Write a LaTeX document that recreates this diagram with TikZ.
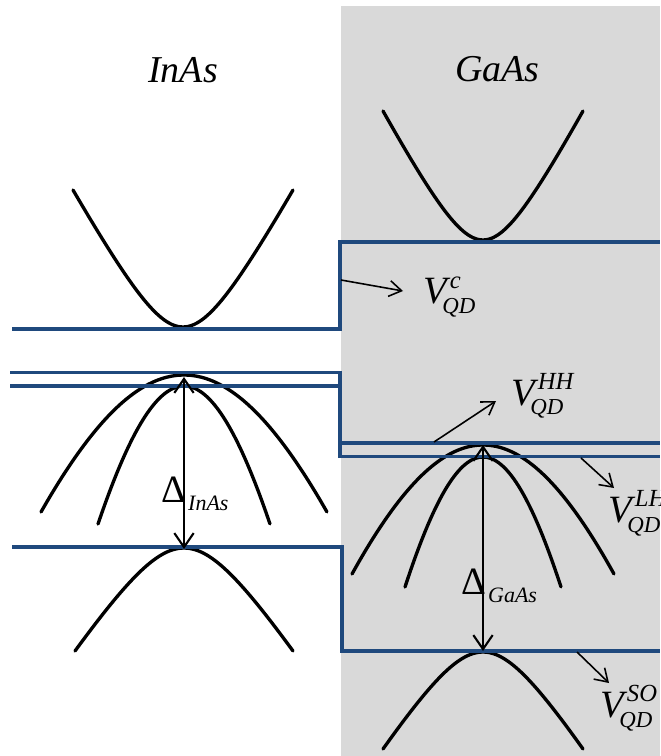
\documentclass[tikz,border=0pt]{standalone}
\usepackage{fontspec}
\setmainfont{Liberation Serif}
\usetikzlibrary{arrows.meta}
\definecolor{bandblue}{HTML}{1F497D}
\definecolor{dotgray}{HTML}{D9D9D9}
\newcommand{\bandcurve}[5]{\draw[bandcurve] plot[domain=-1:1, samples=41, smooth] ({#1+#3*\x}, {#2+#4*(sqrt(1+\x*\x/(#5*#5))-1)/(sqrt(1+1/(#5*#5))-1)});}
\newcommand{\potlabel}[1]{V\rlap{\kern0.6mm\raisebox{3.2mm}{\fontsize{14}{14}\selectfont #1}}\kern-0.9mm\raisebox{-2mm}{\fontsize{13}{13}\selectfont QD}}
\newcommand{\gaplabel}[1]{\upshape Δ\kern0.4mm\raisebox{-1.7mm}{\itshape\fontsize{12.5}{12.5}\selectfont #1}}
\tikzset{
  bandcurve/.style={line width=1.9pt, black, line cap=round},
  bandedge/.style={line width=2.1pt, bandblue},
  bandthin/.style={line width=1.9pt, bandblue},
  gaparrow/.style={line width=1.2pt, {Straight Barb[length=8pt, width=11pt]}-{Straight Barb[length=8pt, width=11pt]}},
  potarrow/.style={line width=0.9pt, -{Straight Barb[length=7pt, width=9pt]}},
  title/.style={anchor=base west, inner sep=0pt, font=\fontsize{21.6}{21.6}\selectfont\itshape},
  potnode/.style={anchor=base west, inner sep=0pt, font=\fontsize{22}{22}\selectfont\itshape},
}
\begin{document}
\begin{tikzpicture}[x=0.02cm, y=-0.02cm]
\clip (0,0) rectangle (660,756);
\fill[white] (0,0) rectangle (660,756);
\fill[dotgray] (341,6) rectangle (660,756);
% InAs bands
\bandcurve{183}{327}{110}{-137}{0.4}
\bandcurve{184}{375}{143}{137}{1.5}
\bandcurve{184}{386}{86}{138}{1.5}
\bandcurve{184}{548}{109}{103}{0.5}
% GaAs bands
\bandcurve{483}{240}{100}{-129}{0.4}
\bandcurve{483}{445}{131}{129}{1.5}
\bandcurve{483}{457}{78}{130}{1.5}
\bandcurve{483}{652}{100}{97}{0.5}
% band edges
\draw[bandedge] (12,329) -- (340,329) -- (340,242) -- (660,242);
\draw[bandthin] (10,372.5) -- (340,372.5) -- (340,456.5) -- (660,456.5);
\draw[bandthin] (10,386) -- (340,386);
\draw[bandthin] (340,443) -- (660,443);
\draw[bandedge] (12,547) -- (342,547) -- (342,651) -- (660,651);
% titles
\node[title] (inas) at (148,83) {InAs};
\node[title] (gaas) at (455,82) {GaAs};
% gaps
\coordinate (inastop) at (184,377);
\coordinate (inasbot) at (184,549);
\coordinate (gaastop) at (483,445);
\coordinate (gaasbot) at (483,651);
\draw[gaparrow] (inastop) -- (inasbot);
\draw[gaparrow] (gaastop) -- (gaasbot);
\node[potnode] (dinas) at (161,502) {\gaplabel{InAs}};
\node[potnode] (dgaas) at (461,594) {\gaplabel{GaAs}};
% potentials
\coordinate (cstart) at (341,280);
\coordinate (cend) at (403,291);
\coordinate (hhstart) at (434,442);
\coordinate (hhend) at (496,401);
\coordinate (lhstart) at (581,458);
\coordinate (lhend) at (614,488);
\coordinate (sostart) at (577,652);
\coordinate (soend) at (609,683);
\draw[potarrow] (cstart) -- (cend);
\draw[potarrow] (hhstart) -- (hhend);
\draw[potarrow] (lhstart) -- (lhend);
\draw[potarrow] (sostart) -- (soend);
\node[potnode] (vc) at (423,304) {\potlabel{c}};
\node[potnode] (vhh) at (511,405) {\potlabel{HH}};
\node[potnode] (vlh) at (608,522) {\potlabel{LH}};
\node[potnode] (vso) at (600,717) {\potlabel{SO}};
\end{tikzpicture}
\end{document}
